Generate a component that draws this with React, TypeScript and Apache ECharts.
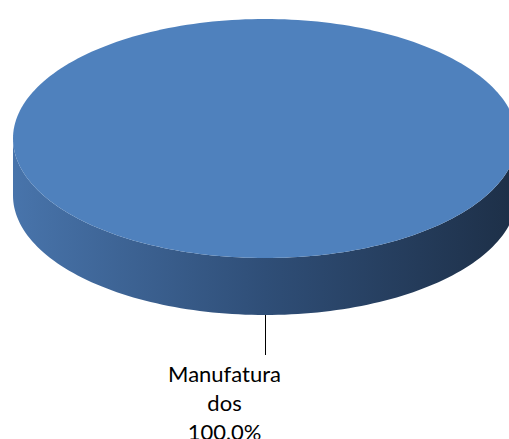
import React, { useEffect, useRef } from "react";
import * as echarts from "echarts";

// ---- data ----
const categories = ["Manufaturados"];
const values = [100];
const sliceColors = ["#4F81BD"];

// ---- layout constants ----
const CX = 265;
const CY = 138.5;
const RX = 252;
const RY = 119.5;
const DEPTH = 57;

function wrapName(name: string, max: number): string {
  const out: string[] = [];
  for (let i = 0; i < name.length; i += max) out.push(name.slice(i, i + max));
  return out.join("\n");
}

function arcPts(a0: number, a1: number, dy: number): number[][] {
  const n = Math.max(2, Math.ceil(((a1 - a0) / (2 * Math.PI)) * 240));
  const pts: number[][] = [];
  for (let k = 0; k <= n; k++) {
    const a = a0 + ((a1 - a0) * k) / n;
    pts.push([CX + RX * Math.cos(a), CY + RY * Math.sin(a) + dy]);
  }
  return pts;
}

export default function App() {
  const ref = useRef<HTMLDivElement>(null);
  useEffect(() => {
    const chart = echarts.init(ref.current!, null, { renderer: "svg" });
    const total = values.reduce((a, b) => a + b, 0);
    chart.setOption({
      animation: false,
      series: [
        {
          type: "custom",
          coordinateSystem: "none",
          data: values.map((v, i) => [v, i]),
          renderItem: (params: any, api: any) => {
            const i = params.dataIndex;
            let cum = 0;
            for (let j = 0; j < i; j++) cum += values[j];
            const v = api.value(0);
            const a0 = -Math.PI / 2 + (2 * Math.PI * cum) / total;
            const a1 = a0 + (2 * Math.PI * v) / total;
            const children: any[] = [];
            // side wall (front half: angles in [0, PI] mod 2PI)
            for (let k = -1; k <= 1; k++) {
              const s = Math.max(a0, 0 + 2 * Math.PI * k);
              const e = Math.min(a1, Math.PI + 2 * Math.PI * k);
              if (e > s) {
                const top = arcPts(s, e, 0);
                const bot = arcPts(s, e, DEPTH).reverse();
                children.push({
                  type: "polygon",
                  shape: { points: top.concat(bot) },
                  style: {
                    fill: {
                      type: "linear",
                      x: CX - RX,
                      y: 0,
                      x2: CX + RX,
                      y2: 0,
                      global: true,
                      colorStops: [
                        { offset: 0, color: "#4874ab" },
                        { offset: 0.5, color: "#2f4e77" },
                        { offset: 1, color: "#1d2f47" },
                      ],
                    },
                  },
                });
              }
            }
            // top face
            const topPts = arcPts(a0, a1, 0);
            if (v < total) topPts.push([CX, CY]);
            children.push({
              type: "polygon",
              shape: { points: topPts },
              style: { fill: sliceColors[i % sliceColors.length] },
            });
            // label with leader line
            const am = (a0 + a1) / 2;
            const lx = Math.round(CX + RX * Math.cos(am)) + 0.5;
            const ly = CY + RY * Math.sin(am) + DEPTH;
            children.push({
              type: "line",
              shape: { x1: lx, y1: ly, x2: lx, y2: ly + 40 },
              style: { stroke: "#000", lineWidth: 1 },
            });
            const pct = ((v / total) * 100).toFixed(1).replace(".", ",") + "%";
            children.push({
              type: "text",
              x: lx - 41,
              y: ly + 44,
              style: {
                text: wrapName(categories[i], 10) + "\n" + pct,
                fill: "#000",
                fontSize: 22,
                lineHeight: 29,
                fontFamily: "Lato, 'Noto Sans', sans-serif",
                align: "center",
                verticalAlign: "top",
              },
            });
            return { type: "group", children };
          },
        },
      ],
    });
    return () => chart.dispose();
  }, []);
  return (
    <div
      ref={ref}
      style={{ position: "fixed", left: 0, top: 0, width: 509, height: 439, background: "#fff" }}
    />
  );
}
